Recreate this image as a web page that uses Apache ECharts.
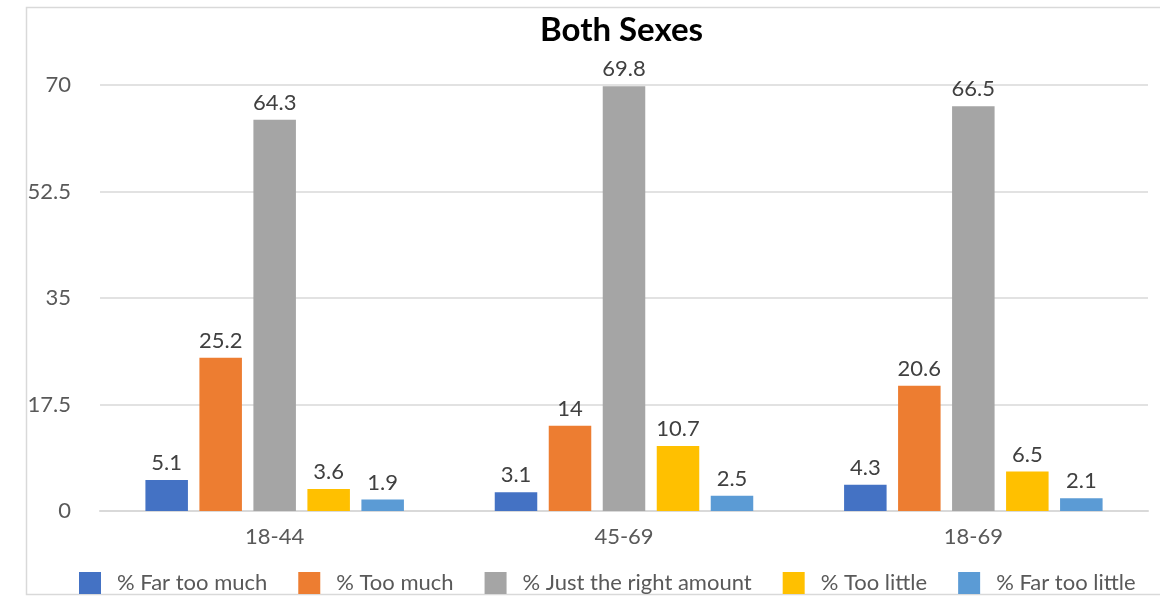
<!DOCTYPE html>
<html>
<head>
<meta charset="utf-8">
<script src="https://cdn.jsdelivr.net/npm/echarts@6/dist/echarts.min.js"></script>
<style>
  html, body { margin: 0; padding: 0; background: #ffffff; }
  #chart { width: 1160px; height: 596px; }
</style>
</head>
<body>
<div id="chart"></div>
<script>
// Age groups along the x axis
const ageGroups = ['18-44', '45-69', '18-69'];

// Response shares (%) for each age group
const farTooMuch = [5.1, 3.1, 4.3];
const tooMuch = [25.2, 14, 20.6];
const justRight = [64.3, 69.8, 66.5];
const tooLittle = [3.6, 10.7, 6.5];
const farTooLittle = [1.9, 2.5, 2.1];

const seriesNames = ['% Far too much', '% Too much', '% Just the right amount', '% Too little', '% Far too little'];
const seriesValues = [farTooMuch, tooMuch, justRight, tooLittle, farTooLittle];
const seriesColors = ['#4472C4', '#ED7D31', '#A5A5A5', '#FFC000', '#5B9BD5'];

// Value axis ticks
const yTicks = [0, 17.5, 35, 52.5, 70];

const FONT = 'Lato';
const chart = echarts.init(document.getElementById('chart'));

chart.setOption({
  animation: false,
  backgroundColor: '#ffffff',
  title: {
    text: 'Both Sexes',
    left: 540,
    top: 14,
    padding: 0,
    textStyle: { fontFamily: FONT, fontWeight: 'bold', fontSize: 33, color: '#000000' }
  },
  graphic: [{
    type: 'rect',
    shape: { x: 26.5, y: 7.5, width: 1200, height: 587 },
    style: { fill: 'none', stroke: '#d9d9d9', lineWidth: 1.5 },
    silent: true,
    z: -1
  }],
  legend: {
    left: 79,
    top: 572,
    padding: 0,
    itemWidth: 22,
    itemHeight: 22,
    itemGap: 31,
    icon: 'rect',
    textStyle: { fontFamily: FONT, fontSize: 22, color: '#595959', padding: [0, 0, 0, 11] },
    data: seriesNames
  },
  grid: { left: 100, right: 12, top: 85, bottom: 85, containLabel: false },
  xAxis: {
    type: 'category',
    data: ageGroups,
    axisLine: { lineStyle: { color: '#d9d9d9', width: 2 } },
    axisTick: { show: false },
    axisLabel: { fontFamily: FONT, fontSize: 22, color: '#595959', margin: 15 }
  },
  yAxis: {
    type: 'value',
    min: yTicks[0],
    max: yTicks[yTicks.length - 1],
    interval: yTicks[1] - yTicks[0],
    axisLine: { show: false },
    axisTick: { show: false },
    splitLine: { lineStyle: { color: '#d9d9d9', width: 1.5 } },
    axisLabel: { fontFamily: FONT, fontSize: 22, color: '#595959', margin: 29 }
  },
  series: seriesNames.map((name, i) => ({
    name: name,
    type: 'bar',
    data: seriesValues[i],
    barGap: '27%',
    barCategoryGap: '26%',
    itemStyle: { color: seriesColors[i] },
    label: {
      show: true,
      position: 'top',
      distance: 6,
      fontFamily: FONT,
      fontSize: 22,
      color: '#404040'
    }
  }))
});
</script>
</body>
</html>
